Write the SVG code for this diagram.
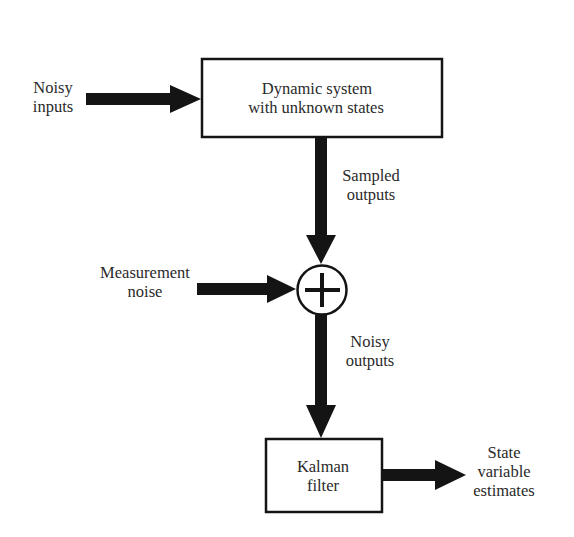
<svg xmlns="http://www.w3.org/2000/svg" width="574" height="537" viewBox="0 0 574 537">
<style>
.box{fill:#fff;stroke:#141414;stroke-width:2.5}
.arrow{fill:#141414}
text{font-family:"Times New Roman","Liberation Serif",serif;font-size:16.5px;fill:#2a2a2a;text-anchor:middle}
</style>
<rect width="574" height="537" fill="#fff"/>
<g id="dynamic-system">
<rect class="box" x="202" y="59" width="240" height="78"/>
<text x="317" y="94">Dynamic system</text>
<text x="316" y="112.5">with unknown states</text>
</g>
<g id="sum">
<circle cx="322" cy="290" r="24.5" fill="#fff" stroke="#141414" stroke-width="2.5"/>
<path d="M305 290H340M322 273V307" stroke="#141414" stroke-width="4" fill="none"/>
</g>
<g id="kalman-filter">
<rect class="box" x="266" y="439" width="116" height="73"/>
<text x="323" y="472">Kalman</text>
<text x="323" y="491">filter</text>
</g>
<g id="labels">
<text x="53" y="93">Noisy</text>
<text x="53" y="111.5">inputs</text>
<text x="371" y="181">Sampled</text>
<text x="371" y="199.5">outputs</text>
<text x="145" y="278">Measurement</text>
<text x="145" y="296.5">noise</text>
<text x="370" y="347">Noisy</text>
<text x="370" y="365.5">outputs</text>
<text x="504" y="458">State</text>
<text x="504" y="477">variable</text>
<text x="504" y="496">estimates</text>
</g>
<g id="connectors">
<polygon class="arrow" points="86,93 170,93 170,85 201,99 170,113 170,105 86,105"/>
<polygon class="arrow" points="315,138 327,138 327,235 336,235 321,264 306,235 315,235"/>
<polygon class="arrow" points="197,283 267,283 267,275 296,289 267,303 267,295 197,295"/>
<polygon class="arrow" points="315,315 327,315 327,405 336,405 321,438 306,405 315,405"/>
<polygon class="arrow" points="383,469 435,469 435,460 466,475 435,490 435,481 383,481"/>
</g>
</svg>
